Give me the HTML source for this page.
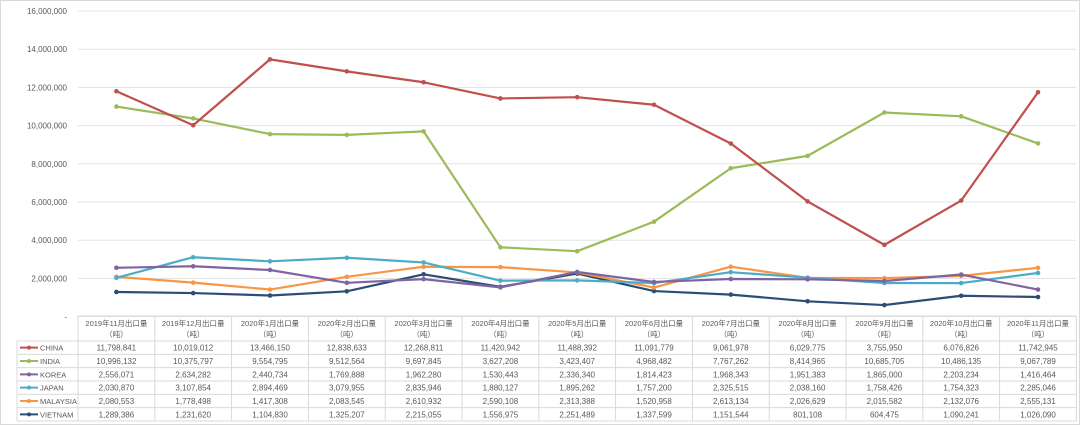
<!DOCTYPE html>
<html><head><meta charset="utf-8"><style>
body{margin:0;background:#fff;}
#wrap{position:relative;width:1078px;height:423px;border:1px solid #d9d9d9;overflow:hidden;}
svg text{font-family:"Liberation Sans","Noto Sans CJK SC",sans-serif;fill:#595959;}
</style></head><body><div id="wrap"><svg id="s" width="1078" height="423" xmlns="http://www.w3.org/2000/svg"></svg></div>
<script>
(function(){
const months=["2019年11月出口量","2019年12月出口量","2020年1月出口量","2020年2月出口量","2020年3月出口量","2020年4月出口量","2020年5月出口量","2020年6月出口量","2020年7月出口量","2020年8月出口量","2020年9月出口量","2020年10月出口量","2020年11月出口量"];
const S=[
["CHINA","#c0504d",[11798841,10019012,13466150,12838633,12268811,11420942,11488392,11091779,9061978,6029775,3755950,6076826,11742945]],
["INDIA","#9bbb59",[10996132,10375797,9554795,9512564,9697845,3627208,3423407,4968482,7767262,8414965,10685705,10486135,9067789]],
["KOREA","#8064a2",[2556071,2634282,2440734,1769888,1962280,1530443,2336340,1814423,1968343,1951383,1865000,2203234,1416464]],
["JAPAN","#4bacc6",[2030870,3107854,2894469,3079955,2835946,1880127,1895262,1757200,2325515,2038160,1758426,1754323,2285046]],
["MALAYSIA","#f79646",[2080553,1778498,1417308,2083545,2610932,2590108,2313388,1520958,2613134,2026629,2015582,2132076,2555131]],
["VIETNAM","#2c4d75",[1289386,1231620,1104830,1325207,2215055,1556975,2251489,1337599,1151544,801108,604475,1090241,1026090]]];
const x0=77,cw=76.8,y0=315.6,k=38.2/2e6;
let h="";
const f=n=>n.toLocaleString("en-US");
for(let i=0;i<=8;i++){let y=y0-i*38.2;h+=`<line x1="${x0}" x2="1075" y1="${y}" y2="${y}" stroke="#e3e3e3"/>`;h+=`<text x="66" y="${y+3}" font-size="8" text-anchor="end">${i?f(i*2000000):"-"}</text>`;}
const tt=315,hr=340,rh=13.33;
for(let c=0;c<=13;c++){let x=x0+c*cw;h+=`<line x1="${x}" x2="${x}" y1="${tt}" y2="420" stroke="#d9d9d9"/>`;}
h+=`<line x1="${x0}" x2="1075" y1="${tt}" y2="${tt}" stroke="#d9d9d9"/>`;
for(let r=0;r<=6;r++){let y=hr+r*rh;h+=`<line x1="16" x2="1075" y1="${y}" y2="${y}" stroke="#d9d9d9"/>`;}
h+=`<line x1="16" x2="16" y1="${hr}" y2="420" stroke="#d9d9d9"/>`;
months.forEach((m,c)=>{let cx=x0+c*cw+cw/2;h+=`<text x="${cx}" y="325" font-size="7.5" text-anchor="middle">${m}</text><text x="${cx}" y="336" font-size="7.5" text-anchor="middle">（吨）</text>`;});
S.forEach((s,r)=>{let y=hr+r*rh+rh/2;h+=`<line x1="19" x2="37" y1="${y}" y2="${y}" stroke="${s[1]}" stroke-width="2"/><circle cx="28" cy="${y}" r="2" fill="${s[1]}"/><text x="39" y="${y+3}" font-size="7.5">${s[0]}</text>`;
s[2].forEach((v,c)=>{h+=`<text x="${x0+c*cw+cw/2}" y="${y+3}" font-size="8" text-anchor="middle">${f(v)}</text>`;});});
[...S].reverse().forEach(s=>{let pts=s[2].map((v,c)=>[x0+c*cw+cw/2,y0-v*k]);h+=`<polyline fill="none" stroke="${s[1]}" stroke-width="2.2" stroke-linejoin="round" points="${pts.map(p=>p.join(",")).join(" ")}"/>`;pts.forEach(p=>h+=`<circle cx="${p[0]}" cy="${p[1]}" r="2.3" fill="${s[1]}"/>`);});
document.getElementById("s").innerHTML=h;
})();
</script></body></html>
